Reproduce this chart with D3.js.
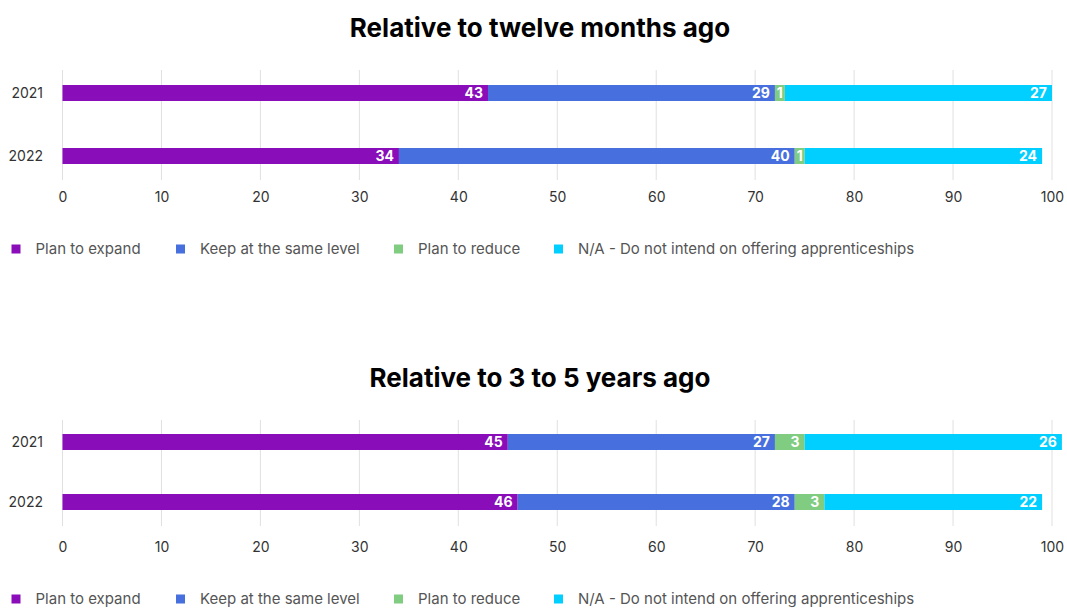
<!DOCTYPE html>
<html>
<head>
<meta charset="utf-8">
<script src="https://cdn.jsdelivr.net/npm/d3@7"></script>
<style>
  html, body { margin: 0; padding: 0; background: #ffffff; }
  svg { display: block; }
</style>
</head>
<body>
<svg id="chart" width="1067" height="608"></svg>
<script>
// Survey responses (%), one stacked bar per year
const years = ["2021", "2022"];
const seriesNames = [
  "Plan to expand",
  "Keep at the same level",
  "Plan to reduce",
  "N/A - Do not intend on offering apprenticeships"
];
const seriesColors = ["#8a0dba", "#476fdd", "#80cc80", "#00cfff"];

const twelveMonthsTitle = "Relative to twelve months ago";
const twelveMonthsExpand = [43, 34];
const twelveMonthsKeep = [29, 40];
const twelveMonthsReduce = [1, 1];
const twelveMonthsNA = [27, 24];

const threeToFiveTitle = "Relative to 3 to 5 years ago";
const threeToFiveExpand = [45, 46];
const threeToFiveKeep = [27, 28];
const threeToFiveReduce = [3, 3];
const threeToFiveNA = [26, 22];

const xTicks = [0, 10, 20, 30, 40, 50, 60, 70, 80, 90, 100];

const svg = d3.select("#chart");
const fontFamily = "Inter, 'Noto Sans', sans-serif";
const barHeight = 16;

const x = d3.scaleLinear().domain([0, 100]).range([62.5, 1052]);

function buildRows(expand, keep, reduce, na) {
  return years.map((y, i) => ({
    year: y,
    [seriesNames[0]]: expand[i],
    [seriesNames[1]]: keep[i],
    [seriesNames[2]]: reduce[i],
    [seriesNames[3]]: na[i]
  }));
}

function drawPanel(top, title, rows, layout) {
  const g = svg.append("g").attr("transform", `translate(0,${top})`);

  // title
  g.append("text")
    .attr("x", 540)
    .attr("y", 37)
    .attr("text-anchor", "middle")
    .attr("font-family", fontFamily)
    .attr("font-weight", 700)
    .attr("font-size", 26)
    .attr("fill", "#000")
    .text(title);

  // bar centre positions
  const y = d3.scalePoint().domain(years).range(layout.barCenters).padding(0);

  // vertical grid
  g.append("g").selectAll("line")
    .data(xTicks)
    .join("line")
    .attr("x1", d => x(d)).attr("x2", d => x(d))
    .attr("y1", layout.gridTop).attr("y2", layout.gridBottom)
    .attr("stroke", "#e0e0e0")
    .attr("stroke-width", 1);

  // x axis labels
  const xAxis = d3.axisBottom(x).tickValues(xTicks).tickSize(0).tickPadding(0);
  const xa = g.append("g").attr("transform", `translate(0,${layout.tickY})`).call(xAxis);
  xa.select(".domain").remove();
  xa.selectAll("text")
    .attr("font-family", fontFamily)
    .attr("font-size", 14)
    .attr("fill", "#333");

  // y axis labels
  const yAxis = d3.axisLeft(y).tickSize(0).tickPadding(0);
  const ya = g.append("g").attr("transform", "translate(43,0)").call(yAxis);
  ya.select(".domain").remove();
  ya.selectAll("text")
    .attr("font-family", fontFamily)
    .attr("font-size", 14)
    .attr("fill", "#333");

  const stacked = d3.stack().keys(seriesNames)(rows);

  const layers = g.append("g").selectAll("g")
    .data(stacked)
    .join("g")
    .attr("fill", (d, i) => seriesColors[i]);

  layers.selectAll("rect")
    .data(d => d)
    .join("rect")
    .attr("x", d => x(d[0]))
    .attr("y", d => y(d.data.year) - barHeight / 2)
    .attr("width", d => x(d[1]) - x(d[0]))
    .attr("height", barHeight);

  // value labels at the right end of each segment (centred in narrow ones)
  layers.selectAll("text")
    .data(d => d)
    .join("text")
    .each(function (d) {
      const w = x(d[1]) - x(d[0]);
      const narrow = w < 20;
      d3.select(this)
        .attr("x", narrow ? (x(d[0]) + x(d[1])) / 2 : x(d[1]) - 5)
        .attr("text-anchor", narrow ? "middle" : "end");
    })
    .attr("y", d => y(d.data.year))
    .attr("dy", "0.36em")
    .attr("font-family", fontFamily)
    .attr("font-weight", 700)
    .attr("font-size", 14)
    .attr("fill", "#fff")
    .text(d => d[1] - d[0]);

  // legend
  const legendX = [11.5, 176, 394, 554];
  const lg = g.append("g").attr("transform", `translate(0,${layout.legendY})`);
  const items = lg.selectAll("g")
    .data(seriesNames)
    .join("g")
    .attr("transform", (d, i) => `translate(${legendX[i]},0)`);
  items.append("rect")
    .attr("x", 0).attr("y", -4.5)
    .attr("width", 9).attr("height", 9)
    .attr("fill", (d, i) => seriesColors[i]);
  items.append("text")
    .attr("x", 24)
    .attr("y", 0)
    .attr("dy", "0.35em")
    .attr("font-family", fontFamily)
    .attr("font-size", 15)
    .attr("fill", "#555")
    .text(d => d);
}

drawPanel(0, twelveMonthsTitle,
  buildRows(twelveMonthsExpand, twelveMonthsKeep, twelveMonthsReduce, twelveMonthsNA),
  { barCenters: [93, 156], gridTop: 70, gridBottom: 180, tickY: 192, legendY: 249 });
drawPanel(350, threeToFiveTitle,
  buildRows(threeToFiveExpand, threeToFiveKeep, threeToFiveReduce, threeToFiveNA),
  { barCenters: [92, 152], gridTop: 70, gridBottom: 176, tickY: 192, legendY: 249 });
</script>
</body>
</html>
